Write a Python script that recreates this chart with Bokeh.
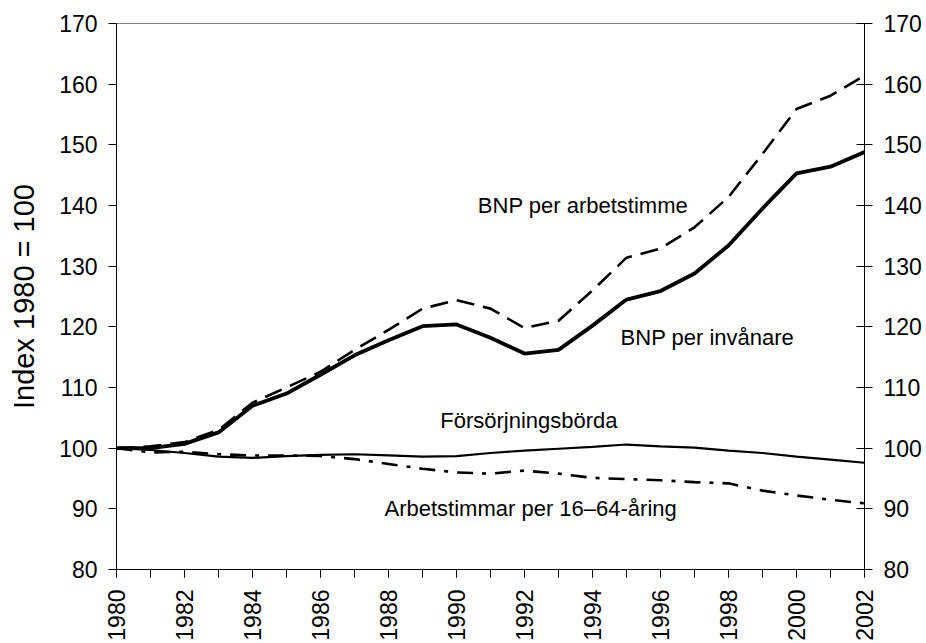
import math
from bokeh.plotting import figure
from bokeh.models import Range1d, LinearAxis, FixedTicker
from bokeh.core.properties import value
from bokeh.embed import file_html
from bokeh.resources import INLINE

years = list(range(1980, 2003))
bnp_per_invanare = [100.0, 100.0, 100.7, 102.6, 107.0, 109.0, 112.1, 115.3, 117.8, 120.1, 120.4, 118.2,
                    115.6, 116.2, 120.2, 124.5, 125.9, 128.8, 133.4, 139.5, 145.3, 146.4, 148.8]
bnp_per_arbetstimme = [100.0, 100.3, 101.0, 103.0, 107.5, 110.0, 112.6, 116.2, 119.5, 123.0, 124.4, 123.0,
                       119.8, 121.0, 126.0, 131.4, 132.9, 136.4, 141.4, 148.5, 155.9, 158.1, 161.4]
forsorjningsborda = [100.0, 99.7, 99.2, 98.6, 98.4, 98.7, 98.9, 99.0, 98.8, 98.6, 98.7, 99.2,
                     99.6, 99.9, 100.2, 100.6, 100.3, 100.1, 99.6, 99.2, 98.6, 98.1, 97.6]
arbetstimmar = [100.0, 99.3, 99.4, 99.0, 98.8, 98.8, 98.7, 98.2, 97.4, 96.6, 96.0, 95.8,
                96.3, 95.8, 95.1, 94.9, 94.7, 94.4, 94.2, 93.0, 92.2, 91.5, 90.9]

label_texts = ["BNP per arbetstimme", "BNP per invånare", "Försörjningsbörda", "Arbetstimmar per 16–64-åring"]

y_ticks = list(range(80, 171, 10))
x_major = list(range(1980, 2003, 2))
x_minor = list(range(1980, 2003, 1))

FONT = "Liberation Sans"

p = figure(width=922, height=639, frame_width=748, frame_height=546,
           x_range=Range1d(1980, 2002), y_range=Range1d(80, 170),
           output_backend="svg", toolbar_location=None,
           min_border_left=116, min_border_right=58, min_border_top=23, min_border_bottom=70)
p.background_fill_color = "white"
p.border_fill_color = "white"
p.outline_line_color = "#808080"
p.outline_line_width = 1
p.xgrid.visible = False
p.ygrid.visible = False

# lines
p.line(years, forsorjningsborda, line_color="black", line_width=2.2)
p.line(years, arbetstimmar, line_color="black", line_width=2.6, line_dash="16 9 4 9")
p.line(years, bnp_per_arbetstimme, line_color="black", line_width=2.6, line_dash="18 9")
p.line(years, bnp_per_invanare, line_color="black", line_width=3.8)

# labels (annotation positions)
lx = [1993.72, 1997.38, 1992.13, 1992.18]
ly = [140.0, 118.3, 104.5, 90.1]
p.text(x=lx, y=ly, text=label_texts, text_align="center", text_baseline="middle",
       text_font=value(FONT), text_font_size="22px", text_color="black")

# axes styling
xa = p.xaxis[0]
xa.ticker = FixedTicker(ticks=x_major, minor_ticks=x_minor)
xa.major_label_orientation = math.pi / 2
xa.major_label_text_font = FONT
xa.major_label_text_font_size = "23px"
xa.major_label_text_color = "black"
xa.major_label_standoff = 12
xa.major_tick_in = 0
xa.major_tick_out = 8
xa.minor_tick_in = 0
xa.minor_tick_out = 8
xa.minor_tick_line_color = "black"
xa.major_tick_line_color = "black"
xa.axis_line_color = "black"

ya = p.yaxis[0]
ya.ticker = FixedTicker(ticks=y_ticks)
ya.axis_label = "Index 1980 = 100"
ya.axis_label_text_font = FONT
ya.axis_label_text_font_size = "29px"
ya.axis_label_text_font_style = "normal"
ya.axis_label_text_color = "black"
ya.axis_label_standoff = 16
ya.major_label_text_font = FONT
ya.major_label_text_font_size = "23px"
ya.major_label_text_color = "black"
ya.major_label_standoff = 11
ya.major_tick_in = 0
ya.major_tick_out = 8
ya.minor_tick_line_color = None
ya.axis_line_color = "black"

ry = LinearAxis(ticker=FixedTicker(ticks=y_ticks))
ry.major_label_text_font = FONT
ry.major_label_text_font_size = "23px"
ry.major_label_text_color = "black"
ry.major_label_standoff = 11
ry.major_tick_in = 8
ry.major_tick_out = 8
ry.minor_tick_line_color = None
ry.axis_line_color = "black"
p.add_layout(ry, "right")

open("out.html", "w").write(file_html(p, INLINE))
